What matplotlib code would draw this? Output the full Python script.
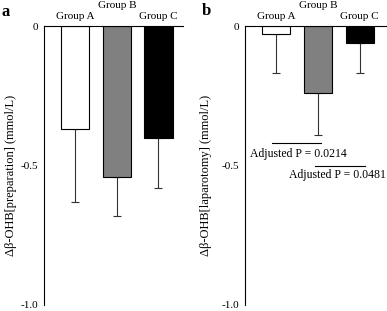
import matplotlib
matplotlib.use('Agg')
import matplotlib.pyplot as plt
import numpy as np

plt.rcParams['font.family'] = ['Liberation Serif', 'DejaVu Serif']
plt.rcParams['axes.unicode_minus'] = False

groups = ['Group A', 'Group B', 'Group C']
colors = ['white', '#808080', 'black']

# panel a: preparation
prep_mean = [-0.37, -0.54, -0.40]
prep_sd = [0.26, 0.14, 0.18]

# panel b: laparotomy
lap_mean = [-0.03, -0.24, -0.06]
lap_sd = [0.14, 0.15, 0.11]

sig_labels = ['Adjusted P = 0.0214', 'Adjusted P = 0.0481']
sig_levels = [-0.42, -0.50]

fig = plt.figure(figsize=(3.87, 3.11), dpi=100)
ax_a = fig.add_axes([44 / 387, 1 - 305 / 311, 139 / 387, 279 / 311])
ax_b = fig.add_axes([245 / 387, 1 - 305 / 311, 141 / 387, 279 / 311])

x = np.arange(len(groups))
label_y = [0.035, 0.074, 0.035]


def draw_panel(ax, means, sds, ylabel, xlim, label_x):
    ax.bar(x, means, width=0.68, color=colors, edgecolor='black', linewidth=0.8,
           zorder=2)
    ax.errorbar(x, means, yerr=[sds, [0] * len(sds)], fmt='none',
                ecolor='#333333', elinewidth=0.8, capsize=3, capthick=0.8,
                zorder=1)
    ax.set_ylim(-1.0, 0)
    ax.set_xlim(*xlim)
    ax.set_yticks([0, -0.5, -1.0])
    ax.set_yticklabels(['0', '-0.5', '-1.0'])
    ax.set_xticks([])
    ax.tick_params(axis='y', length=0, pad=4, labelsize=8)
    ax.spines['right'].set_visible(False)
    ax.spines['bottom'].set_visible(False)
    for s in ('top', 'left'):
        ax.spines[s].set_linewidth(0.8)
    ax.set_ylabel(ylabel, fontsize=9)
    ax.yaxis.set_label_coords(label_x, 0.466)
    for xi, g, ly in zip(x, groups, label_y):
        ax.text(xi, ly, g, ha='center', va='center', fontsize=8, clip_on=False)


draw_panel(ax_a, prep_mean, prep_sd, 'Δβ-OHB[preparation] (mmol/L)',
           (-0.75, 2.59), -0.194)
draw_panel(ax_b, lap_mean, lap_sd, 'Δβ-OHB[laparotomy] (mmol/L)',
           (-0.75, 2.63), -0.234)

# significance brackets in panel b
sig_xs = [(-0.11, 1.07), (0.92, 2.12)]
text_pos = [(0.54, -0.457), (1.47, -0.535)]
for (x0, x1), lvl, lab, (tx, ty) in zip(sig_xs, sig_levels, sig_labels, text_pos):
    ax_b.plot([x0, x1], [lvl, lvl], color='black', lw=0.8)
    ax_b.text(tx, ty, lab, ha='center', va='center', fontsize=8.5,
              clip_on=False)

fig.text(6 / 387, 1 - 12 / 311, 'a', fontsize=12, fontweight='bold',
         ha='center', va='center')
fig.text(206 / 387, 1 - 11 / 311, 'b', fontsize=12, fontweight='bold',
         ha='center', va='center')

fig.savefig('out.png', dpi=100)
